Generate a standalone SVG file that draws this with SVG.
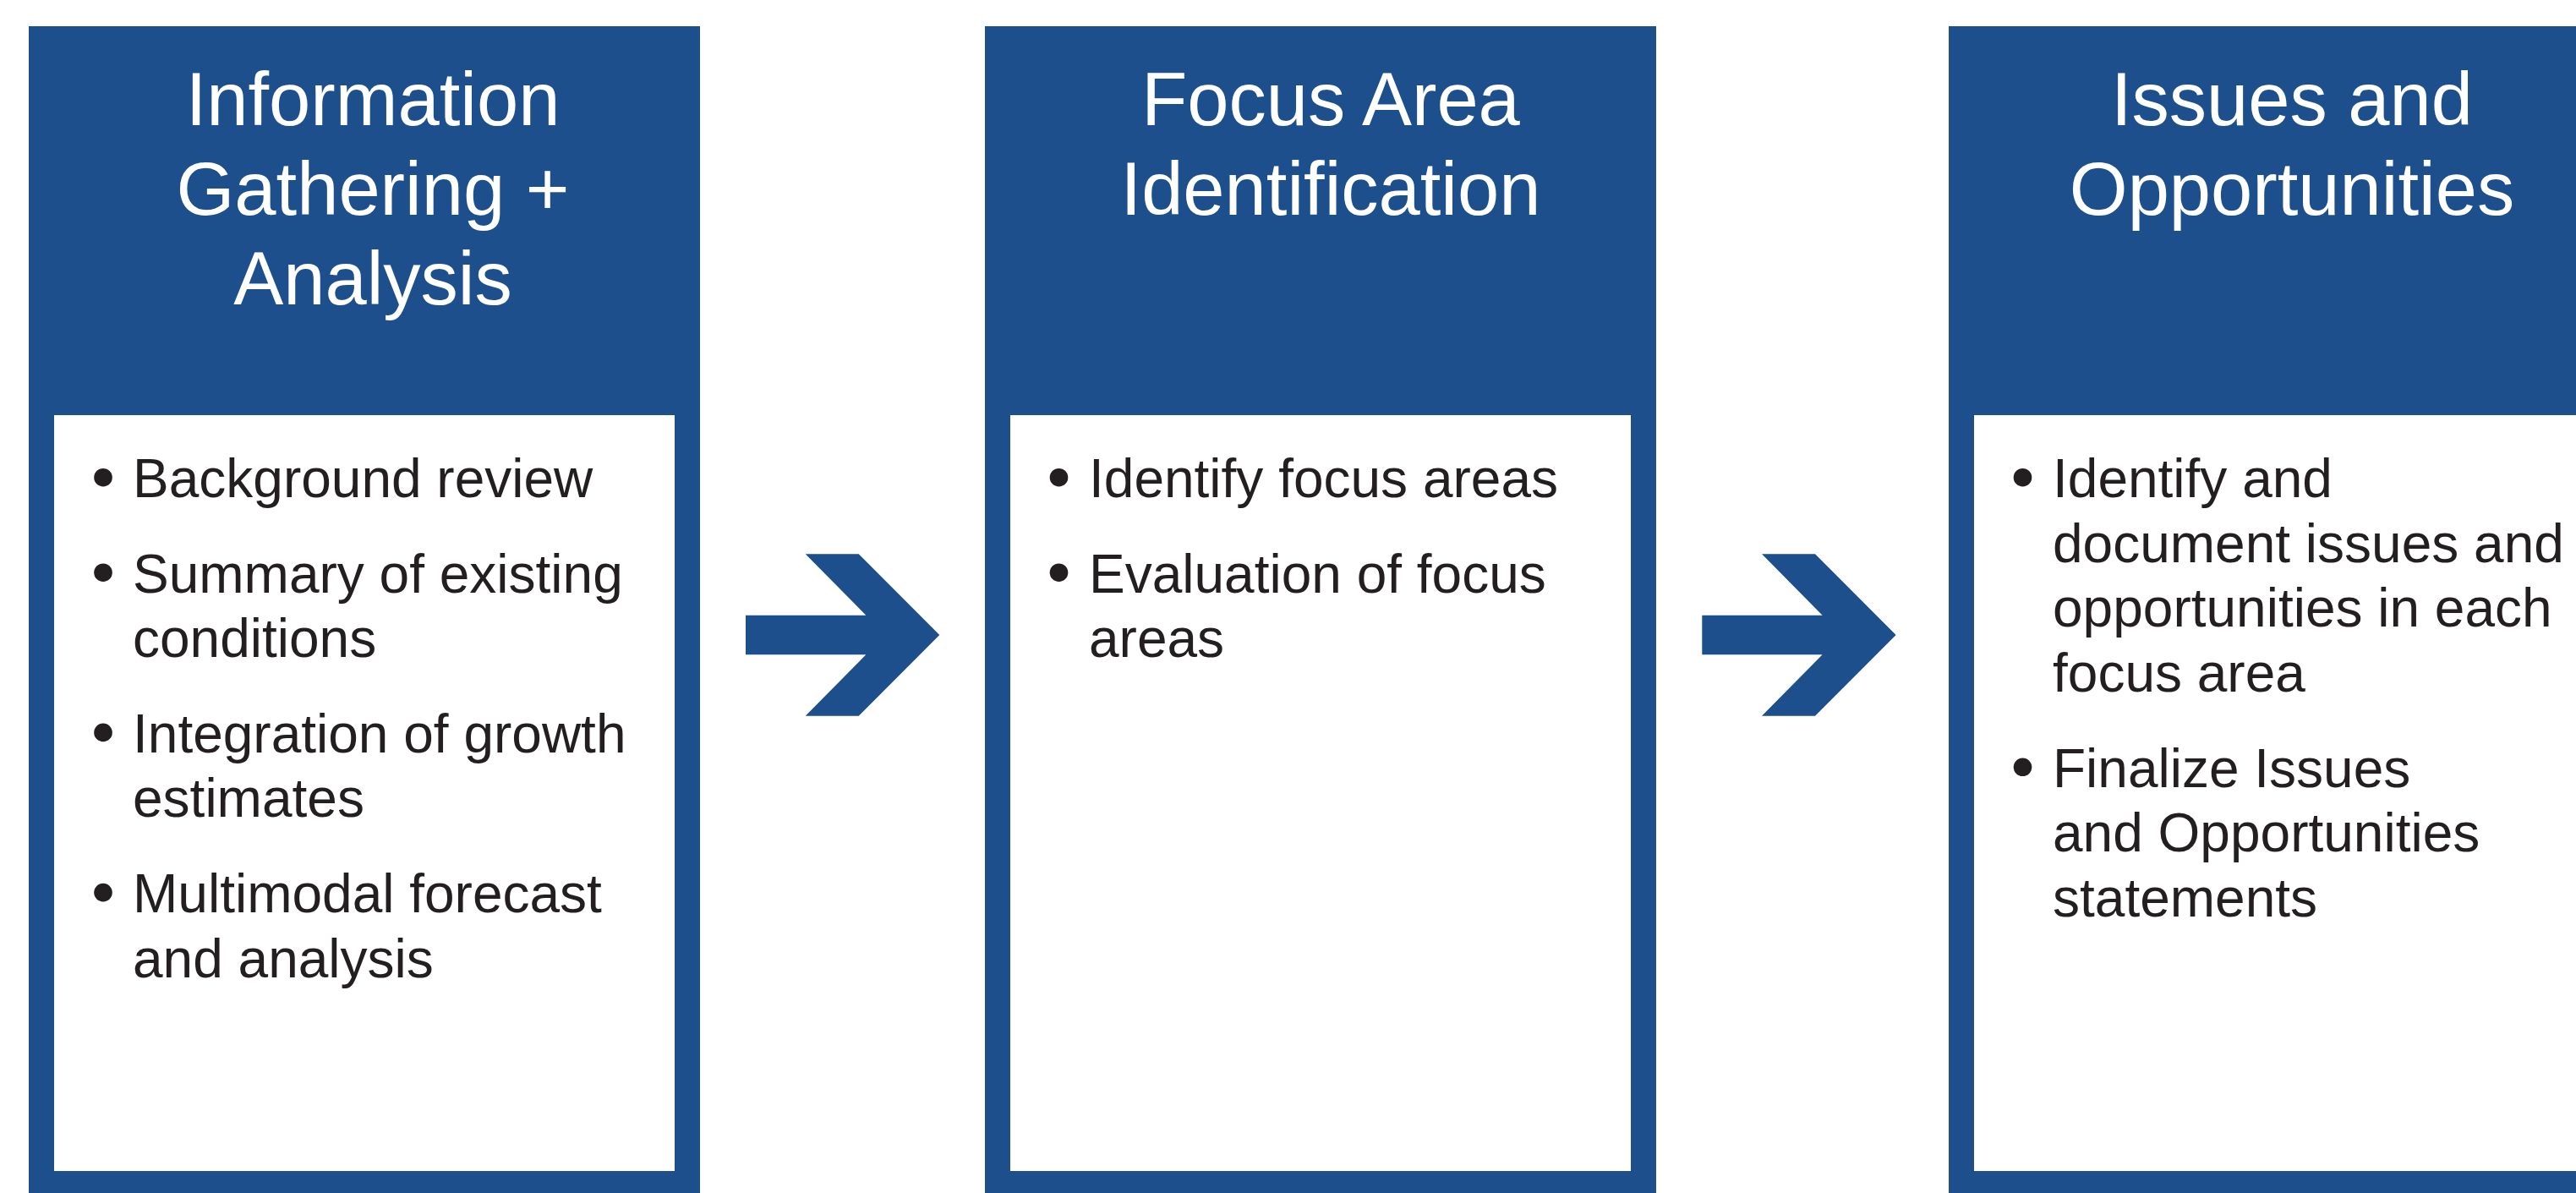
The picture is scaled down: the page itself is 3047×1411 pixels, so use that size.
<svg xmlns="http://www.w3.org/2000/svg" width="3047" height="1411" viewBox="0 0 3047 1411">
  <style>
    .frame { fill: #1C4F8C; }
    .panel { fill: #FFFFFF; }
    .title { font-family: "Liberation Sans", Arial, sans-serif; font-size: 88.5px; fill: #FFFFFF; text-anchor: middle; }
    .body { font-family: "Liberation Sans", Arial, sans-serif; font-size: 64px; fill: #231F20; }
    .dot { fill: #231F20; }
    .arrow { fill: #1C4F8C; }
  </style>
  <rect x="0" y="0" width="3047" height="1411" fill="#FFFFFF"/>

  <g id="node-info-gathering">
    <rect class="frame" x="34" y="31" width="794" height="1380"/>
    <rect class="panel" x="64" y="491" width="734" height="894"/>
    <text class="title" x="441" y="148.3">Information</text>
    <text class="title" x="441" y="254">Gathering +</text>
    <text class="title" x="441" y="359.5">Analysis</text>
    <circle class="dot" cx="122" cy="564.7" r="10.8"/>
    <circle class="dot" cx="122" cy="677.2" r="10.8"/>
    <circle class="dot" cx="122" cy="866.4" r="10.8"/>
    <circle class="dot" cx="122" cy="1055.6" r="10.8"/>
    <text class="body" x="157" y="588">Background review</text>
    <text class="body" x="157" y="700.5">Summary of existing</text>
    <text class="body" x="157" y="777.2">conditions</text>
    <text class="body" x="157" y="889.7">Integration of growth</text>
    <text class="body" x="157" y="966.4">estimates</text>
    <text class="body" x="157" y="1078.9">Multimodal forecast</text>
    <text class="body" x="157" y="1155.6">and analysis</text>
  </g>

  <g id="node-focus-area">
    <rect class="frame" x="1165" y="31" width="794" height="1380"/>
    <rect class="panel" x="1195" y="491" width="734" height="894"/>
    <text class="title" x="1574" y="148.3">Focus Area</text>
    <text class="title" x="1574" y="254">Identification</text>
    <circle class="dot" cx="1252.5" cy="564.7" r="10.8"/>
    <circle class="dot" cx="1252.5" cy="677.2" r="10.8"/>
    <text class="body" x="1288" y="588">Identify focus areas</text>
    <text class="body" x="1288" y="700.5">Evaluation of focus</text>
    <text class="body" x="1288" y="777.2">areas</text>
  </g>

  <g id="node-issues-opportunities">
    <rect class="frame" x="2305" y="31" width="794" height="1380"/>
    <rect class="panel" x="2335" y="491" width="734" height="894"/>
    <text class="title" x="2711" y="148.3">Issues and</text>
    <text class="title" x="2711" y="254">Opportunities</text>
    <circle class="dot" cx="2392.5" cy="564.7" r="10.8"/>
    <circle class="dot" cx="2392.5" cy="907.3" r="10.8"/>
    <text class="body" x="2428" y="588">Identify and</text>
    <text class="body" x="2428" y="664.7">document issues and</text>
    <text class="body" x="2428" y="741.4">opportunities in each</text>
    <text class="body" x="2428" y="818.1">focus area</text>
    <text class="body" x="2428" y="930.6">Finalize Issues</text>
    <text class="body" x="2428" y="1007.3">and Opportunities</text>
    <text class="body" x="2428" y="1084">statements</text>
  </g>

  <g id="connectors">
    <polygon class="arrow" points="882,727.7 1024.3,727.7 952.7,655.3 1015.7,655.3 1111.3,751 1015.7,846.7 952.7,846.7 1024.3,774.3 882,774.3"/>
    <polygon class="arrow" points="2013.3,727.7 2155.6,727.7 2084,655.3 2147,655.3 2242.6,751 2147,846.7 2084,846.7 2155.6,774.3 2013.3,774.3"/>
  </g>
</svg>
